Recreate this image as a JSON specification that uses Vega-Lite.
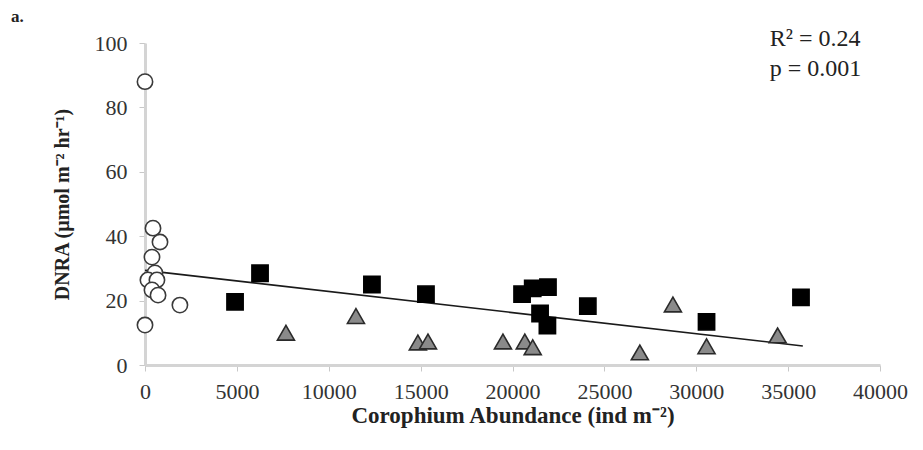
{
  "$schema": "https://vega.github.io/schema/vega-lite/v6.json",
  "width": 735,
  "height": 322,
  "autosize": {"type": "none"},
  "padding": {"left": 145, "top": 43, "right": 43, "bottom": 85},
  "background": "white",
  "config": {
    "view": {"stroke": null},
    "font": "Liberation Serif",
    "axis": {
      "labelFont": "Liberation Serif",
      "labelFontSize": 22,
      "labelColor": "#333333",
      "labelFlush": false,
      "labelOverlap": false,
      "titleFont": "Liberation Serif",
      "titleFontWeight": "bold",
      "titleColor": "#222222",
      "domainColor": "#d4d4d4",
      "domainWidth": 3,
      "tickColor": "#c8c8c8",
      "tickSize": 6,
      "tickWidth": 1,
      "grid": false
    }
  },
  "title": {
    "text": "a.",
    "anchor": "start",
    "frame": "group",
    "dx": -134,
    "offset": 1,
    "fontSize": 17,
    "fontWeight": "bold",
    "font": "Liberation Serif",
    "color": "#222222"
  },
  "datasets": {
    "points": [
      {"abundance": 0, "dnra": 88, "group": "G1"},
      {"abundance": 435, "dnra": 42.5, "group": "G1"},
      {"abundance": 816, "dnra": 38.2, "group": "G1"},
      {"abundance": 380, "dnra": 33.5, "group": "G1"},
      {"abundance": 540, "dnra": 28.6, "group": "G1"},
      {"abundance": 160, "dnra": 26.4, "group": "G1"},
      {"abundance": 650, "dnra": 26.4, "group": "G1"},
      {"abundance": 380, "dnra": 23.3, "group": "G1"},
      {"abundance": 710, "dnra": 21.7, "group": "G1"},
      {"abundance": 1900, "dnra": 18.6, "group": "G1"},
      {"abundance": 0, "dnra": 12.4, "group": "G1"},
      {"abundance": 4900, "dnra": 19.6, "group": "G2"},
      {"abundance": 6260, "dnra": 28.5, "group": "G2"},
      {"abundance": 12350, "dnra": 25.0, "group": "G2"},
      {"abundance": 15290, "dnra": 22.0, "group": "G2"},
      {"abundance": 20520, "dnra": 22.0, "group": "G2"},
      {"abundance": 21100, "dnra": 23.8, "group": "G2"},
      {"abundance": 21930, "dnra": 24.2, "group": "G2"},
      {"abundance": 21500, "dnra": 16.0, "group": "G2"},
      {"abundance": 21900, "dnra": 12.2, "group": "G2"},
      {"abundance": 24100, "dnra": 18.3, "group": "G2"},
      {"abundance": 30560, "dnra": 13.4, "group": "G2"},
      {"abundance": 35700, "dnra": 21.0, "group": "G2"},
      {"abundance": 7670, "dnra": 10.0, "group": "G3"},
      {"abundance": 11480, "dnra": 15.2, "group": "G3"},
      {"abundance": 14850, "dnra": 7.0, "group": "G3"},
      {"abundance": 15400, "dnra": 7.3, "group": "G3"},
      {"abundance": 19480, "dnra": 7.3, "group": "G3"},
      {"abundance": 20670, "dnra": 7.3, "group": "G3"},
      {"abundance": 21100, "dnra": 5.5, "group": "G3"},
      {"abundance": 26930, "dnra": 3.9, "group": "G3"},
      {"abundance": 28730, "dnra": 18.8, "group": "G3"},
      {"abundance": 30560, "dnra": 5.8, "group": "G3"},
      {"abundance": 34430, "dnra": 9.2, "group": "G3"}
    ],
    "fit": [
      {"abundance": 0, "dnra": 29.4},
      {"abundance": 35800, "dnra": 5.9}
    ]
  },
  "layer": [
    {
      "data": {"name": "fit"},
      "mark": {"type": "line", "color": "#1a1a1a", "strokeWidth": 1.6},
      "encoding": {
        "x": {
          "field": "abundance",
          "type": "quantitative",
          "scale": {"domain": [0, 40000], "nice": false},
          "axis": {
            "values": [0, 5000, 10000, 15000, 20000, 25000, 30000, 35000, 40000],
            "format": "d",
            "title": "Corophium Abundance (ind m⁻²)",
            "titleFontSize": 23,
            "labelPadding": 10,
            "titlePadding": 2
          }
        },
        "y": {
          "field": "dnra",
          "type": "quantitative",
          "scale": {"domain": [0, 100], "nice": false},
          "axis": {
            "values": [0, 20, 40, 60, 80, 100],
            "title": "DNRA (µmol m⁻² hr⁻¹)",
            "titleFontSize": 20,
            "labelPadding": 12,
            "titlePadding": 22
          }
        }
      }
    },
    {
      "data": {"name": "points"},
      "mark": {"type": "point", "filled": true, "opacity": 1, "strokeWidth": 1.6},
      "encoding": {
        "x": {"field": "abundance", "type": "quantitative"},
        "y": {"field": "dnra", "type": "quantitative"},
        "shape": {
          "field": "group",
          "type": "nominal",
          "scale": {"domain": ["G1", "G2", "G3"], "range": ["circle", "square", "triangle-up"]},
          "legend": null
        },
        "size": {
          "field": "group",
          "type": "nominal",
          "scale": {"domain": ["G1", "G2", "G3"], "range": [235, 290, 300]},
          "legend": null
        },
        "fill": {
          "field": "group",
          "type": "nominal",
          "scale": {"domain": ["G1", "G2", "G3"], "range": ["#ffffff", "#000000", "#8a8a8a"]},
          "legend": null
        },
        "stroke": {
          "field": "group",
          "type": "nominal",
          "scale": {"domain": ["G1", "G2", "G3"], "range": ["#3a3a3a", "#000000", "#2a2a2a"]},
          "legend": null
        }
      }
    },
    {
      "data": {"values": [{}]},
      "mark": {
        "type": "text",
        "text": ["R² = 0.24", "p = 0.001"],
        "align": "left",
        "baseline": "top",
        "fontSize": 24,
        "lineHeight": 30,
        "font": "Liberation Serif",
        "color": "#222222"
      },
      "encoding": {
        "x": {"datum": 34000},
        "y": {"datum": 105}
      }
    }
  ]
}
